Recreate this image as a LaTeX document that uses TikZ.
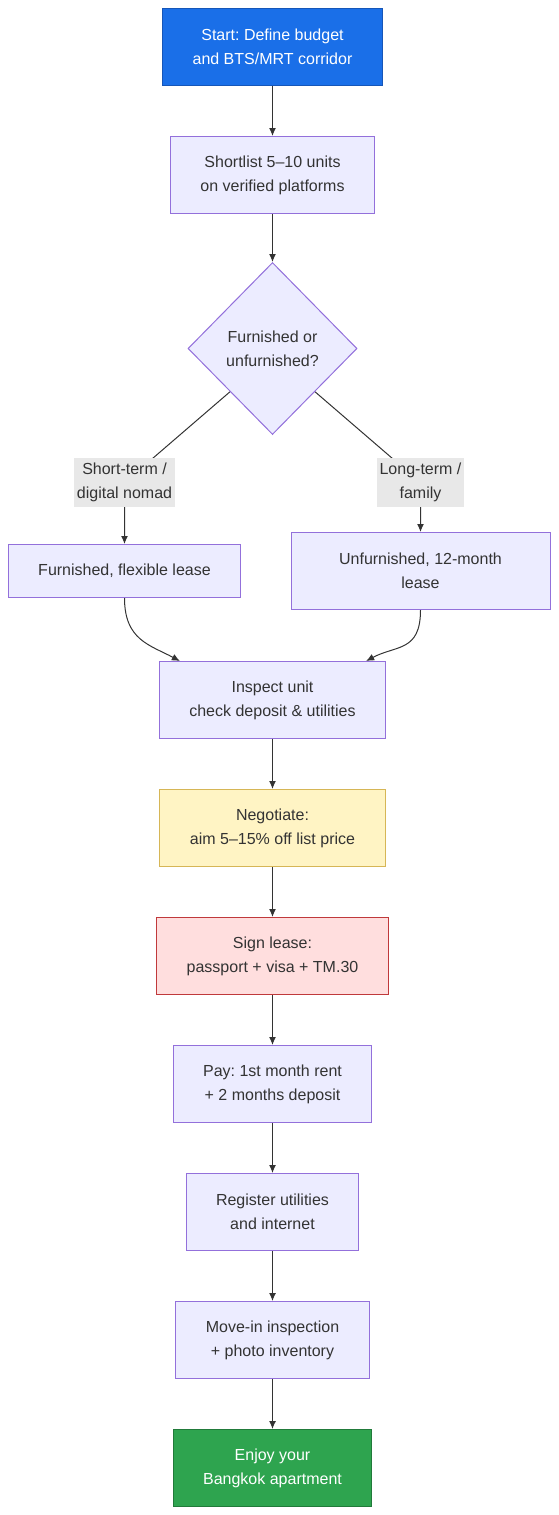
\documentclass[tikz,border=0pt]{standalone}
\usepackage{fontspec}
\setmainfont{Liberation Sans}
\frenchspacing
\usepackage{tikz}
\usetikzlibrary{positioning,shapes.geometric,arrows.meta,backgrounds}

\definecolor{boxfill}{HTML}{ECECFF}
\definecolor{boxline}{HTML}{9370DB}
\definecolor{ink}{HTML}{333333}
\definecolor{lblfill}{HTML}{E8E8E8}
\definecolor{startfill}{HTML}{1A6FE8}
\definecolor{startline}{HTML}{1656B8}
\definecolor{negfill}{HTML}{FFF4C4}
\definecolor{negline}{HTML}{D6B656}
\definecolor{signfill}{HTML}{FFDEDE}
\definecolor{signline}{HTML}{C0393B}
\definecolor{endfill}{HTML}{2EA44F}
\definecolor{endline}{HTML}{217A3A}

\begin{document}
\begin{tikzpicture}[x=1pt, y=1pt, font=\fontsize{16}{24}\selectfont, text=ink,
    box/.style={draw=boxline, fill=boxfill, line width=1pt, align=center,
                minimum height=77pt, inner xsep=30pt},
    decision/.style={diamond, draw=boxline, fill=boxfill, line width=1pt, align=center,
                     aspect=1, inner sep=0pt, minimum width=169pt, minimum height=172pt},
    lbl/.style={fill=lblfill, align=center, inner xsep=3pt, inner ysep=5pt},
    arr/.style={draw=ink, line width=1pt, -{Latex[length=8pt,width=7pt]}}]

    \useasboundingbox (0,0) rectangle (559,-1515);

    \node[box, fill=startfill, draw=startline, text=white] (start) at (272.5,-47)
        {Start: Define budget\\and BTS/MRT corridor};
    \node[box, below=50pt of start] (short) {Shortlist 5–10 units\\on verified platforms};
    \node[decision, below=48pt of short] (dia) {Furnished or\\unfurnished?};

    \node[lbl, below=23pt of dia, xshift=-148pt] (lblshort) {Short-term /\\digital nomad};
    \node[lbl, below=23pt of dia, xshift=148pt] (lbllong) {Long-term /\\family};

    \node[box, minimum height=53pt, minimum width=231pt, below=109pt of dia, xshift=-148pt] (furn)
        {Furnished, flexible lease};
    \node[box, minimum width=259pt, below=97pt of dia, xshift=148pt] (unfurn)
        {Unfurnished, 12-month\\lease};

    \node[box, below=51pt of unfurn, xshift=-148pt] (inspect) {Inspect unit\\check deposit \& utilities};
    \node[box, fill=negfill, draw=negline, below=50pt of inspect] (nego) {Negotiate:\\aim 5–15\% off list price};
    \node[box, fill=signfill, draw=signline, below=50pt of nego] (sign) {Sign lease:\\passport + visa + TM.30};
    \node[box, below=50pt of sign] (pay) {Pay: 1st month rent\\+ 2 months deposit};
    \node[box, below=50pt of pay] (util) {Register utilities\\and internet};
    \node[box, below=50pt of util] (movein) {Move-in inspection\\+ photo inventory};
    \node[box, fill=endfill, draw=endline, text=white, below=50pt of movein] (enjoy)
        {Enjoy your\\Bangkok apartment};

    \draw[arr] (start) -- (short);
    \draw[arr] (short) -- (dia);

    \begin{scope}[on background layer]
    \draw[arr] (dia.south west) -- (lblshort.center) -- (furn);
    \draw[arr] (dia.south east) -- (lbllong.center) -- (unfurn);
    \end{scope}

    \draw[arr] (furn.south) .. controls +(0,-42) and +(-30,16) .. ([xshift=21pt]inspect.north west);
    \draw[arr] (unfurn.south) .. controls +(0,-42) and +(30,16) .. ([xshift=-20pt]inspect.north east);

    \draw[arr] (inspect) -- (nego);
    \draw[arr] (nego) -- (sign);
    \draw[arr] (sign) -- (pay);
    \draw[arr] (pay) -- (util);
    \draw[arr] (util) -- (movein);
    \draw[arr] (movein) -- (enjoy);
\end{tikzpicture}
\end{document}
